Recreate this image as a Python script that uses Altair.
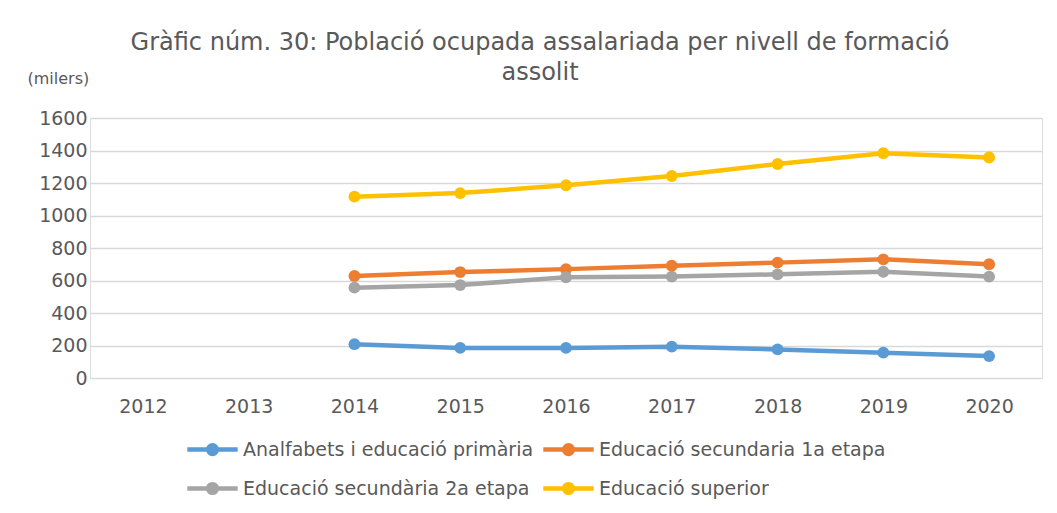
import altair as alt
import pandas as pd

years_all = ["2012", "2013", "2014", "2015", "2016", "2017", "2018", "2019", "2020"]
years_data = ["2014", "2015", "2016", "2017", "2018", "2019", "2020"]
series = [
    "Analfabets i educació primària",
    "Educació secundaria 1a etapa",
    "Educació secundària 2a etapa",
    "Educació superior",
]
colors = ["#5B9BD5", "#ED7D31", "#A5A5A5", "#FFC000"]

analfabets = [208, 185, 185, 193, 176, 156, 135]
secundaria_1 = [628, 652, 670, 691, 710, 730, 700]
secundaria_2 = [556, 572, 620, 624, 638, 654, 624]
superior = [1116, 1138, 1186, 1243, 1317, 1383, 1357]
y_ticks = [0, 200, 400, 600, 800, 1000, 1200, 1400, 1600]

rows = []
for name, vals in zip(series, [analfabets, secundaria_1, secundaria_2, superior]):
    for yr, v in zip(years_data, vals):
        rows.append({"any": yr, "valor": v, "serie": name})
df = pd.DataFrame(rows)

FONT = "DejaVu Sans"
TXT = "#595959"
SYM = "M-3.6,0L3.6,0M-0.62,0A0.62,0.62 0 1,1 0.62,0A0.62,0.62 0 1,1 -0.62,0Z"

x = alt.X(
    "any:O",
    scale=alt.Scale(domain=years_all),
    axis=alt.Axis(title=None, labelAngle=0, labelPadding=19, tickSize=0, ticks=False,
                  domain=False, grid=False, labelFontSize=19, labelFont=FONT, labelColor=TXT),
)
y = alt.Y(
    "valor:Q",
    scale=alt.Scale(domain=[0, 1600], nice=False),
    axis=alt.Axis(values=y_ticks, format="d", title="(milers)", titleAngle=0, titleX=-63,
                  titleY=-35, titleAlign="left", titleBaseline="alphabetic", titleFontSize=16,
                  titleFontWeight="normal", titleFont=FONT, titleColor=TXT,
                  labelFontSize=19, labelFont=FONT, labelColor=TXT, labelPadding=3,
                  ticks=False, tickSize=0, domain=False, grid=True,
                  gridColor="#d9d9d9", gridWidth=1.4),
)
color = alt.Color(
    "serie:N",
    scale=alt.Scale(domain=series, range=colors),
    sort=series,
    legend=alt.Legend(title=None, orient="none", legendX=95, legendY=322, columns=2,
                      direction="horizontal",
                      symbolType=SYM, symbolSize=196, symbolStrokeWidth=4.5,
                      symbolOffset=18, labelOffset=21, labelFontSize=19, labelFont=FONT,
                      labelColor=TXT, columnPadding=0, rowPadding=12, labelLimit=400),
)

base = alt.Chart(df).encode(x=x, y=y, color=color)
line = base.mark_line(strokeWidth=4.5)
pts = base.mark_point(filled=True, size=140, opacity=1)

chart = (
    alt.layer(line, pts)
    .properties(
        width=952,
        height=260,
        padding={"left": 19, "top": 23, "right": 5, "bottom": 5},
        title=alt.Title(
            ["Gràfic núm. 30: Població ocupada assalariada per nivell de formació", "assolit"],
            fontSize=24, font=FONT, fontWeight="normal", color=TXT, lineHeight=30,
            anchor="middle", offset=-15, dx=-26,
        ),
    )
    .configure_view(stroke=None)
    .configure(background="white")
)

chart.save("out.html", embed_options={"renderer": "svg", "actions": False})
